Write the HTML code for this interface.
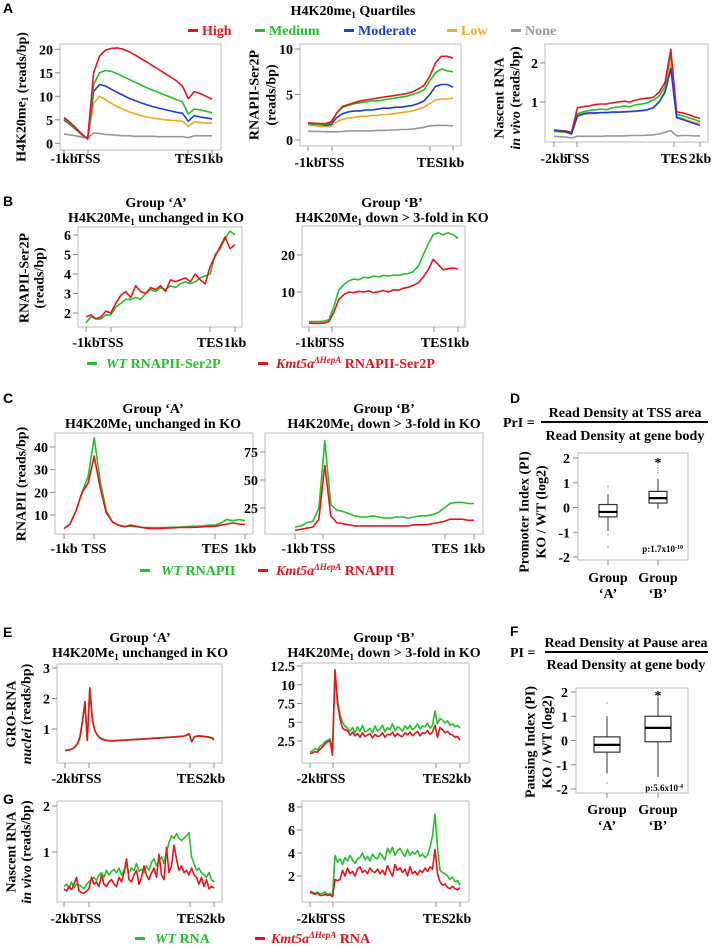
<!DOCTYPE html>
<html><head><meta charset="utf-8"><style>
html,body{margin:0;padding:0;background:#fff}
svg{display:block;font-family:"Liberation Serif",serif;font-weight:bold}
.pl{font-family:"Liberation Sans",sans-serif;font-weight:bold;font-size:14px}
.t{font-size:14px}
.sm{font-size:9px}
</style></head><body>
<svg id="fig" width="718" height="949" viewBox="0 0 718 949" xmlns="http://www.w3.org/2000/svg">
<!-- Panel A header -->
<text class="pl" x="3" y="13">A</text>
<text class="t" x="353" y="15" text-anchor="middle">H4K20me<tspan font-size="9" dy="3">1</tspan><tspan dy="-3"> Quartiles</tspan></text>
<g class="t">
<rect x="188" y="29" width="10" height="3" fill="#e8141b"/><text x="202" y="35" fill="#e8141b">High</text>
<rect x="255" y="29" width="10" height="3" fill="#22c02a"/><text x="269" y="35" fill="#22c02a">Medium</text>
<rect x="344" y="29" width="10" height="3" fill="#1a3fd8"/><text x="358" y="35" fill="#1a3fd8">Moderate</text>
<rect x="447" y="29" width="10" height="3" fill="#f5a623"/><text x="461" y="35" fill="#f5a623">Low</text>
<rect x="511" y="29" width="10" height="3" fill="#999"/><text x="525" y="35" fill="#999">None</text>
</g>
<!-- y titles A -->
<text class="t" transform="translate(22,97) rotate(-90)" text-anchor="middle" dominant-baseline="central">H4K20me<tspan font-size="9" dy="3">1</tspan><tspan dy="-3"> (reads/bp)</tspan></text>
<text class="t" transform="translate(255,95) rotate(-90)" text-anchor="middle" dominant-baseline="central">RNAPII-Ser2P</text>
<text class="t" transform="translate(272,95) rotate(-90)" text-anchor="middle" dominant-baseline="central">(reads/bp)</text>
<text class="t" transform="translate(500,98) rotate(-90)" text-anchor="middle" dominant-baseline="central">Nascent RNA</text>
<text class="t" transform="translate(516,98) rotate(-90)" text-anchor="middle" dominant-baseline="central"><tspan font-style="italic">in vivo</tspan> (reads/bp)</text>

<!-- Panel B -->
<text class="pl" x="3" y="206">B</text>
<text class="t" x="156" y="207" text-anchor="middle">Group ‘A’</text>
<text class="t" x="156" y="222" text-anchor="middle">H4K20Me<tspan font-size="9" dy="3">1</tspan><tspan dy="-3"> unchanged in KO</tspan></text>
<text class="t" x="392" y="207" text-anchor="middle">Group ‘B’</text>
<text class="t" x="392" y="222" text-anchor="middle">H4K20Me<tspan font-size="9" dy="3">1</tspan><tspan dy="-3"> down &gt; 3-fold in KO</tspan></text>
<text class="t" transform="translate(25,278) rotate(-90)" text-anchor="middle" dominant-baseline="central">RNAPII-Ser2P</text>
<text class="t" transform="translate(40,278) rotate(-90)" text-anchor="middle" dominant-baseline="central">(reads/bp)</text>
<g class="t">
<rect x="87" y="362" width="10" height="3" fill="#22c02a"/><text x="106" y="368" fill="#22c02a"><tspan font-style="italic">WT</tspan> RNAPII-Ser2P</text>
<rect x="258" y="362" width="10" height="3" fill="#e8141b"/><text x="276" y="368" fill="#e8141b"><tspan font-style="italic">Kmt5a</tspan><tspan font-style="italic" font-size="9" dy="-5">ΔHepA</tspan><tspan dy="5"> RNAPII-Ser2P</tspan></text>
</g>

<!-- Panel C -->
<text class="pl" x="3" y="403">C</text>
<text class="t" x="153" y="413" text-anchor="middle">Group ‘A’</text>
<text class="t" x="153" y="428" text-anchor="middle">H4K20Me<tspan font-size="9" dy="3">1</tspan><tspan dy="-3"> unchanged in KO</tspan></text>
<text class="t" x="384" y="413" text-anchor="middle">Group ‘B’</text>
<text class="t" x="384" y="428" text-anchor="middle">H4K20Me<tspan font-size="9" dy="3">1</tspan><tspan dy="-3"> down &gt; 3-fold in KO</tspan></text>
<text class="t" transform="translate(22,484) rotate(-90)" text-anchor="middle" dominant-baseline="central">RNAPII (reads/bp)</text>
<g class="t">
<rect x="140" y="569" width="10" height="3" fill="#22c02a"/><text x="161" y="575" fill="#22c02a"><tspan font-style="italic">WT</tspan> RNAPII</text>
<rect x="258" y="569" width="10" height="3" fill="#e8141b"/><text x="276" y="575" fill="#e8141b"><tspan font-style="italic">Kmt5a</tspan><tspan font-style="italic" font-size="9" dy="-5">ΔHepA</tspan><tspan dy="5"> RNAPII</tspan></text>
</g>

<!-- Panel D -->
<text class="pl" x="510" y="403">D</text>
<text class="t" x="503" y="427">PrI =</text>
<text class="t" x="625" y="417" text-anchor="middle">Read Density at TSS area</text>
<rect x="541" y="421" width="167" height="2" fill="#000"/>
<text class="t" x="625" y="440" text-anchor="middle">Read Density at gene body</text>
<text class="t" transform="translate(525,512) rotate(-90)" text-anchor="middle" dominant-baseline="central">Promoter Index (PI)</text>
<text class="t" transform="translate(542,512) rotate(-90)" text-anchor="middle" dominant-baseline="central">KO / WT (log2)</text>
<text class="sm" x="683" y="552" text-anchor="end">p:1.7x10<tspan font-size="6" dy="-3">-10</tspan></text>
<text class="t" x="608" y="582" text-anchor="middle">Group</text>
<text class="t" x="608" y="598" text-anchor="middle">‘A’</text>
<text class="t" x="658" y="582" text-anchor="middle">Group</text>
<text class="t" x="658" y="598" text-anchor="middle">‘B’</text>

<!-- Panel E -->
<text class="pl" x="3" y="637">E</text>
<text class="t" x="140" y="642" text-anchor="middle">Group ‘A’</text>
<text class="t" x="140" y="657" text-anchor="middle">H4K20Me<tspan font-size="9" dy="3">1</tspan><tspan dy="-3"> unchanged in KO</tspan></text>
<text class="t" x="384" y="642" text-anchor="middle">Group ‘B’</text>
<text class="t" x="384" y="657" text-anchor="middle">H4K20Me<tspan font-size="9" dy="3">1</tspan><tspan dy="-3"> down &gt; 3-fold in KO</tspan></text>
<text class="t" transform="translate(12,714) rotate(-90)" text-anchor="middle" dominant-baseline="central">GRO-RNA</text>
<text class="t" transform="translate(27,714) rotate(-90)" text-anchor="middle" dominant-baseline="central"><tspan font-style="italic">nuclei</tspan> (reads/bp)</text>

<!-- Panel F -->
<text class="pl" x="510" y="636">F</text>
<text class="t" x="510" y="657">PI =</text>
<text class="t" x="626" y="647" text-anchor="middle">Read Density at Pause area</text>
<rect x="545" y="651" width="163" height="2" fill="#000"/>
<text class="t" x="626" y="669" text-anchor="middle">Read Density at gene body</text>
<text class="t" transform="translate(531,742) rotate(-90)" text-anchor="middle" dominant-baseline="central">Pausing Index (PI)</text>
<text class="t" transform="translate(548,742) rotate(-90)" text-anchor="middle" dominant-baseline="central">KO / WT (log2)</text>
<text class="sm" x="683" y="791" text-anchor="end">p:5.6x10<tspan font-size="6" dy="-3">-4</tspan></text>
<text class="t" x="607" y="814" text-anchor="middle">Group</text>
<text class="t" x="607" y="830" text-anchor="middle">‘A’</text>
<text class="t" x="658" y="814" text-anchor="middle">Group</text>
<text class="t" x="658" y="830" text-anchor="middle">‘B’</text>

<!-- Panel G -->
<text class="pl" x="3" y="804">G</text>
<text class="t" transform="translate(12,852) rotate(-90)" text-anchor="middle" dominant-baseline="central">Nascent RNA</text>
<text class="t" transform="translate(27,852) rotate(-90)" text-anchor="middle" dominant-baseline="central"><tspan font-style="italic">in vivo</tspan> (reads/bp)</text>
<g class="t">
<rect x="135" y="937" width="10" height="3" fill="#22c02a"/><text x="155" y="943" fill="#22c02a"><tspan font-style="italic">WT</tspan> RNA</text>
<rect x="255" y="937" width="10" height="3" fill="#e8141b"/><text x="271" y="943" fill="#e8141b"><tspan font-style="italic">Kmt5a</tspan><tspan font-style="italic" font-size="9" dy="-5">ΔHepA</tspan><tspan dy="5"> RNA</tspan></text>
</g>
<g id="plots"></g>
</svg>
<script>
// ===== DATA =====
const a1High=[5.5,4.5,3.3,2,1,15,18.5,19.8,20.2,20.3,20,19.5,18.8,18,17.3,16.5,15.7,14.9,14.1,13.3,12.2,9.5,11,10.6,10,9.4];
const a1Medium=[5.2,4.3,3.1,1.9,0.9,12.5,15,15.5,15.3,14.8,14.2,13.6,13,12.4,11.8,11.3,10.8,10.3,9.8,9.3,8.8,6.2,7.3,7.1,6.8,6.5];
const a1Moderate=[5,4.1,3,1.8,0.9,11,12.5,12.2,11.5,10.8,10.2,9.6,9.1,8.6,8.2,7.8,7.5,7.2,6.9,6.6,6.4,4.7,5.9,5.6,5.4,5.2];
const a1Low=[4.9,4,2.9,1.8,0.9,8.5,10,9.3,8.5,7.8,7.2,6.7,6.3,5.9,5.6,5.4,5.2,5,4.9,4.8,4.7,3.6,4.6,4.4,4.3,4.3];
const a1None=[2,1.8,1.6,1.3,1.1,2.2,2.1,1.9,1.8,1.7,1.6,1.6,1.5,1.5,1.5,1.5,1.4,1.4,1.4,1.4,1.4,1.2,1.6,1.6,1.6,1.6];
const a2High=[1.9,1.85,1.8,1.8,2,3,3.7,3.9,4.1,4.3,4.4,4.5,4.6,4.7,4.8,4.9,5.0,5.1,5.3,5.6,6,7,8.5,9.2,9.2,9.0];
const a2Medium=[1.8,1.75,1.7,1.7,1.9,3,3.6,3.8,4,4.1,4.2,4.3,4.3,4.4,4.5,4.6,4.7,4.8,5,5.2,5.5,6.5,7.4,7.8,7.6,7.5];
const a2Moderate=[1.8,1.7,1.7,1.6,1.7,2.5,2.9,3.1,3.2,3.2,3.3,3.3,3.4,3.5,3.5,3.6,3.6,3.7,3.8,4,4.3,5,5.9,6.1,6.1,5.8];
const a2Low=[1.6,1.6,1.5,1.5,1.5,2,2.3,2.4,2.5,2.6,2.6,2.7,2.7,2.8,2.8,2.9,3,3.1,3.2,3.4,3.6,4,4.4,4.5,4.5,4.6];
const a2None=[1,0.95,0.95,0.9,0.9,0.9,0.95,1,1,1,1,1,1.05,1.05,1.1,1.1,1.15,1.15,1.2,1.3,1.4,1.55,1.6,1.6,1.6,1.55];
const a3High=[0.28,0.27,0.26,0.22,0.85,0.88,0.9,0.93,0.95,0.95,0.98,1.0,1.02,1.0,1.05,1.08,1.1,1.12,1.25,1.5,2.35,0.75,0.72,0.68,0.62,0.58];
const a3Medium=[0.25,0.24,0.23,0.2,0.7,0.75,0.78,0.8,0.82,0.8,0.85,0.87,0.9,0.88,0.93,0.95,0.98,1.05,1.15,1.4,2.25,0.68,0.65,0.6,0.55,0.5];
const a3Moderate=[0.28,0.26,0.24,0.18,0.65,0.7,0.72,0.72,0.73,0.73,0.74,0.74,0.75,0.76,0.77,0.78,0.8,0.85,1.0,1.25,1.85,0.6,0.55,0.5,0.45,0.4];
const a3Low=[0.24,0.23,0.22,0.18,0.62,0.68,0.7,0.7,0.72,0.72,0.73,0.73,0.74,0.75,0.76,0.77,0.8,0.86,1.0,1.3,2.0,0.62,0.58,0.52,0.48,0.45];
const a3None=[0.12,0.11,0.1,0.08,0.12,0.12,0.12,0.12,0.12,0.13,0.13,0.13,0.13,0.14,0.14,0.14,0.15,0.16,0.18,0.22,0.27,0.13,0.14,0.14,0.13,0.13];
const b1WT=[1.5,1.8,1.7,1.7,1.9,1.9,2.3,2.5,2.7,2.7,2.8,2.7,3.0,3.2,3.1,3.3,3.2,3.4,3.3,3.5,3.6,3.5,3.6,3.8,3.9,4.0,5.0,5.3,5.8,6.2,6.0];
const b1KO=[1.8,1.9,1.7,1.8,2.1,2.0,2.5,2.9,3.1,2.8,3.4,3.1,3.0,3.3,3.2,3.4,3.1,3.7,3.6,3.7,3.8,3.6,4.0,3.7,3.5,4.4,4.9,5.4,5.9,5.3,5.5];
const b2WT=[2,2,2,2.1,2.5,6,10.5,12,13,13.5,13.3,14,13.8,14.3,14.1,14.5,14.3,14.6,14.5,14.8,15,15.5,17,20,23,25.5,26,25.5,26,25.5,24.5];
const b2KO=[1.6,1.5,1.5,1.6,2,4.5,8,9.3,10,9.8,10.2,10,10.3,9.8,10.1,10.4,10,10.6,10.5,11,11.3,11.8,12.5,14,16,18.8,17.5,16,16.3,16.5,16.2];
const c1WT=[4,6,12,20,27,44,25,12,7,5.5,5,5,4.8,4.5,4.5,4.5,4.5,4.5,4.6,4.6,4.8,5,5,5.2,5.5,5.5,6.5,8,7.5,8,7.5];
const c1KO=[4,6,12,20,24,36,22,11,7,5.5,4.8,5.5,5,4.5,4,4,4,4.2,4.3,4.5,4.5,4.5,4.6,4.8,5,5,5.5,6,6.5,6,5.8];
const c2WT=[8,9,12,13,25,85,28,23,22,20,18,17,17,18,17,16,16,17,17,16,17,18,18,19,21,25,29,30,30,29,29];
const c2KO=[5,6,7,8,15,63,18,12,11,10,9,9,9,9,9,9,9,9,9,9,10,10,10,11,12,13,15,15,15,14,14];
const e1WT=[0.3,0.3,0.32,0.35,0.4,0.5,0.7,1.2,1.85,0.65,2.3,1.3,0.95,0.8,0.72,0.68,0.65,0.63,0.62,0.62,0.62,0.63,0.63,0.64,0.64,0.65,0.65,0.66,0.66,0.67,0.67,0.68,0.68,0.69,0.69,0.7,0.7,0.71,0.71,0.72,0.72,0.73,0.73,0.74,0.74,0.75,0.75,0.76,0.77,0.79,0.82,0.6,0.74,0.77,0.78,0.77,0.76,0.75,0.74,0.72,0.68];
const e1KO=[0.3,0.31,0.32,0.35,0.42,0.52,0.75,1.25,1.9,0.62,2.35,1.35,0.95,0.8,0.7,0.66,0.63,0.62,0.61,0.61,0.61,0.62,0.62,0.63,0.63,0.64,0.64,0.65,0.65,0.66,0.66,0.67,0.67,0.68,0.68,0.69,0.69,0.7,0.7,0.71,0.71,0.72,0.72,0.73,0.73,0.74,0.75,0.76,0.77,0.8,0.85,0.58,0.73,0.76,0.77,0.76,0.75,0.74,0.72,0.7,0.64];
const e2WT=[1,1.2,1.5,1.3,1.8,2,2.4,2.6,2.8,1.5,11.8,8,6,5,4.5,4.2,3.8,4.3,3.6,4.4,3.8,4.6,3.7,3.9,4.2,3.6,4.5,3.8,4.1,4.6,3.7,4.3,4,4.8,3.9,4.4,4.2,3.8,4.5,4.1,4.6,4,4.3,4.8,4.1,4.5,4.4,4.9,4.2,4.6,6.5,4.8,5.5,5.3,4.9,5.2,4.6,4.8,4.4,4.6,4.2];
const e2KO=[0.8,0.9,1.1,1,1.4,1.7,2.1,2.4,2.5,0.6,12,7.5,5.5,4.2,4,3.9,3.3,3.7,3.2,3.5,3,3.6,3.1,3.3,3.5,2.9,3.4,3.1,3.2,3.6,3,3.4,3.3,3.7,3.1,3.5,3.2,3.1,3.6,3.3,3.7,3.2,3.5,3.8,3.2,3.6,3.5,3.9,3.4,3.7,4.6,3,4.3,4,3.6,3.8,3.4,3.3,3,3.1,2.6];
const g1WT=[0.25,0.3,0.2,0.35,0.22,0.3,0.28,0.25,0.2,0.3,0.35,0.4,0.45,0.38,0.5,0.55,0.45,0.6,0.5,0.58,0.62,0.55,0.65,0.5,0.6,0.72,0.55,0.65,0.6,0.75,0.58,0.62,0.55,0.7,0.6,0.78,0.85,0.7,0.8,0.9,0.75,1.0,1.2,1.35,1.3,1.4,1.3,1.25,1.3,1.35,1.42,0.9,0.75,0.6,0.65,0.55,0.5,0.45,0.55,0.4,0.35];
const g1KO=[0.2,0.15,0.25,0.18,0.3,0.45,0.15,0.12,0.1,0.15,0.2,0.45,0.3,0.35,0.25,0.5,0.3,0.25,0.35,0.4,0.3,0.25,0.45,0.35,0.55,0.85,0.4,0.35,0.5,0.6,0.3,0.45,0.7,0.5,0.4,0.55,0.65,0.45,0.95,0.5,0.4,1.1,0.55,0.7,1.15,0.85,0.6,0.7,0.55,0.6,0.5,0.65,0.5,0.45,0.3,0.45,0.25,0.4,0.2,0.25,0.22];
const g2WT=[0.7,0.6,0.5,0.6,0.4,0.5,0.6,0.4,0.5,0.3,3.8,3.2,3.5,3.0,3.6,3.3,3.8,3.4,3.1,3.5,3.6,4.0,3.4,3.7,3.3,3.9,3.6,3.5,4.0,3.7,3.4,4.4,4.0,4.5,3.8,4.2,4.4,4.0,3.7,4.3,3.8,4.1,3.9,4.2,3.7,3.9,3.6,3.8,4.5,5.5,7.4,4.5,2.5,2.3,2.2,2.0,1.7,1.9,1.5,1.6,1.2];
const g2KO=[0.6,0.5,0.4,0.5,0.3,0.3,0.4,0.3,0.35,0.2,1.7,1.6,1.7,2.5,2.0,2.7,2.2,2.4,2.0,2.6,2.8,2.3,2.5,2.2,2.7,2.4,2.3,2.6,2.2,2.5,2.1,2.9,2.4,2.0,3.0,2.5,2.7,2.3,2.6,2.0,2.8,2.2,2.4,2.1,2.5,2.3,2.7,2.4,2.8,2.6,4.3,2.2,1.5,1.2,1.3,1.0,0.9,1.1,0.9,0.8,1.0];
// boxplot stats: [lowWhisker, q1, median, q3, highWhisker]
const dGroups=["A","B"];
const dStats=[[-0.95,-0.38,-0.18,0.12,0.55],[-0.05,0.18,0.38,0.65,1.15]];
const dOutliers=[[0.85,-1.1,-1.6],[1.4,1.5,1.6,1.7]];
const fStats=[[-1.35,-0.48,-0.18,0.15,1.0],[-1.5,-0.05,0.52,1.0,1.78]];
const fOutliers=[[1.55,-1.75],[]];
const starValueD=2.0, starValueF=2.05;
// tick labels
const xLabels1kb=["-1kb","TSS","TES","1kb"];
const xLabels2kb=["-2kb","TSS","TES","2kb"];
const a1YTicks=[0,5,10,15,20], a2YTicks=[0,5,10], a3YTicks=[1,2];
const b1YTicks=[2,3,4,5,6], b2YTicks=[10,20];
const c1YTicks=[10,20,30,40], c2YTicks=[25,50,75];
const e1YTicks=[1,2,3], e2YTicks=[2.5,5,7.5,10,12.5];
const g1YTicks=[1,2], g2YTicks=[2,4,6,8];
const boxYTicks=[-2,-1,0,1,2];

const RED="#e8141b",GREEN="#22c02a",BLUE="#1a3fd8",ORANGE="#f5a623",GRAY="#999";
const NS="http://www.w3.org/2000/svg";
const root=document.getElementById('plots');
function mk(tag,attrs,parent){const e=document.createElementNS(NS,tag);for(const k in attrs)e.setAttribute(k,attrs[k]);(parent||root).appendChild(e);return e;}
function yScale(v1,p1,v2,p2){return v=>p1+(v-v1)*(p2-p1)/(v2-v1);}
function fmt(v){return String(v);}

function panel(name,box,xa,xb,ys,yt,xticks,xlab,xlabY,series){
  const g=mk('g',{});
  
  
  const r=mk('rect',{x:box[0],y:box[1],width:box[2]-box[0],height:box[3]-box[1],fill:'none',stroke:'#bbb','stroke-width':1},g);
  
  
  yt.forEach(v=>{
    const y=ys(v);
    const tk=mk('line',{x1:box[0]-5,x2:box[0],y1:y,y2:y,stroke:'#888'},g);
    
    
    const tl=mk('text',{x:box[0]-7,y:y+5,'text-anchor':'end','font-size':14},g);
    tl.textContent=fmt(v);
    
    
  });
  xticks.forEach((x,i)=>{
    const tk=mk('line',{x1:x,x2:x,y1:box[3],y2:box[3]+5,stroke:'#888'},g);
    
    
    const tl=mk('text',{x:x,y:xlabY,'text-anchor':'middle','font-size':14},g);
    tl.textContent=xlab[i];
    
    
  });
  series.forEach(s=>{
    const arr=s[0],n=arr.length;
    const pts=arr.map((v,i)=>(xa+(xb-xa)*i/(n-1)).toFixed(1)+','+ys(v).toFixed(1)).join(' ');
    const pl=mk('polyline',{points:pts,fill:'none',stroke:s[1],'stroke-width':1.6,'stroke-linejoin':'round'},g);
    
    
  });
}

panel('a1-h4k20me1-chart',[60,44,221,150],64,212,yScale(0,143.3,20,49.3),a1YTicks,[64,88,188,212],xLabels1kb,163,
  [[a1None,GRAY,'none'],[a1Low,ORANGE,'low'],[a1Moderate,BLUE,'moderate'],[a1Medium,GREEN,'medium'],[a1High,RED,'high']]);
panel('a2-ser2p-chart',[300,44,461,146],308,453,yScale(0,140,10,49),a2YTicks,[308,332,430,453],xLabels1kb,167,
  [[a2None,GRAY,'none'],[a2Low,ORANGE,'low'],[a2Moderate,BLUE,'moderate'],[a2Medium,GREEN,'medium'],[a2High,RED,'high']]);
panel('a3-nascent-rna-chart',[545,44,708,142],554,700,yScale(1,102,2,63),a3YTicks,[554,577,674,700],xLabels2kb,163,
  [[a3None,GRAY,'none'],[a3Low,ORANGE,'low'],[a3Medium,GREEN,'medium'],[a3High,RED,'high'],[a3Moderate,BLUE,'moderate']]);
panel('b1-group-a-chart',[78,227,242,327],86,235,yScale(2,313,6,235),b1YTicks,[86,111,210,235],xLabels1kb,347,
  [[b1WT,GREEN,'wt'],[b1KO,RED,'ko']]);
panel('b2-group-b-chart',[302,226,465,327],309,458,yScale(10,292,20,255),b2YTicks,[309,332,434,458],xLabels1kb,347,
  [[b2WT,GREEN,'wt'],[b2KO,RED,'ko']]);
panel('c1-group-a-chart',[55,433,253,534],64,245,yScale(10,515,40,447),c1YTicks,[64,94,215,245],xLabels1kb,553,
  [[c1WT,GREEN,'wt'],[c1KO,RED,'ko']]);
panel('c2-group-b-chart',[265,433,483,534],295,474,yScale(25,508,75,452),c2YTicks,[295,323,445,474],xLabels1kb,553,
  [[c2WT,GREEN,'wt'],[c2KO,RED,'ko']]);
panel('e1-group-a-chart',[57,664,222,763],65,214,yScale(1,729,3,668),e1YTicks,[65,89,190,214],xLabels2kb,783,
  [[e1WT,GREEN,'wt'],[e1KO,RED,'ko']]);
panel('e2-group-b-chart',[302,663,469,763],310,460,yScale(2.5,741,12.5,666),e2YTicks,[310,333,436,460],xLabels2kb,783,
  [[e2WT,GREEN,'wt'],[e2KO,RED,'ko']]);
panel('g1-group-a-chart',[57,801,222,902],64,214,yScale(1,852,2,806),g1YTicks,[64,89,190,214],xLabels2kb,923,
  [[g1WT,GREEN,'wt'],[g1KO,RED,'ko']]);
panel('g2-group-b-chart',[302,801,469,902],310,460,yScale(2,876,8,807),g2YTicks,[310,333,436,460],xLabels2kb,923,
  [[g2WT,GREEN,'wt'],[g2KO,RED,'ko']]);

function boxplot(name,box,ys,gx,hw,stats,outs,starV){
  const g=mk('g',{});
  
  
  const r=mk('rect',{x:box[0],y:box[1],width:box[2]-box[0],height:box[3]-box[1],fill:'none',stroke:'#bbb'},g);
  
  
  boxYTicks.forEach(v=>{
    const y=ys(v);
    const tk=mk('line',{x1:box[0]-5,x2:box[0],y1:y,y2:y,stroke:'#888'},g);
    
    
    const tl=mk('text',{x:box[0]-8,y:y+5,'text-anchor':'end','font-size':14},g);
    tl.textContent=fmt(v);
    
    
  });
  stats.forEach((s,i)=>{
    const x=gx[i];
    const tk=mk('line',{x1:x,x2:x,y1:box[3],y2:box[3]+5,stroke:'#888'},g);
    
    
    const w=mk('line',{x1:x,x2:x,y1:ys(s[0]),y2:ys(s[4]),stroke:'#333','stroke-width':1},g);
    
    
    const b=mk('rect',{x:x-hw,y:ys(s[3]),width:2*hw,height:ys(s[1])-ys(s[3]),fill:'#fff',stroke:'#333','stroke-width':1.2},g);
    
    
    const m=mk('line',{x1:x-hw,x2:x+hw,y1:ys(s[2]),y2:ys(s[2]),stroke:'#000','stroke-width':2.2},g);
    
    
    outs[i].forEach(o=>{
      const c=mk('circle',{cx:x,cy:ys(o),r:0.8,fill:'#999'},g);
      
      
    });
  });
  const st=mk('text',{x:gx[1],y:ys(starV)+9,'text-anchor':'middle','font-size':14},g);
  st.textContent='*';
  
  
}
boxplot('d-promoter-index-boxplot',[578,453,688,560],yScale(0,507.5,2,458),[608,658],9,dStats,dOutliers,starValueD);
boxplot('f-pausing-index-boxplot',[576,688,688,793],yScale(0,740.5,2,692),[607,658],13,fStats,fOutliers,starValueF);
</script>
</body></html>
